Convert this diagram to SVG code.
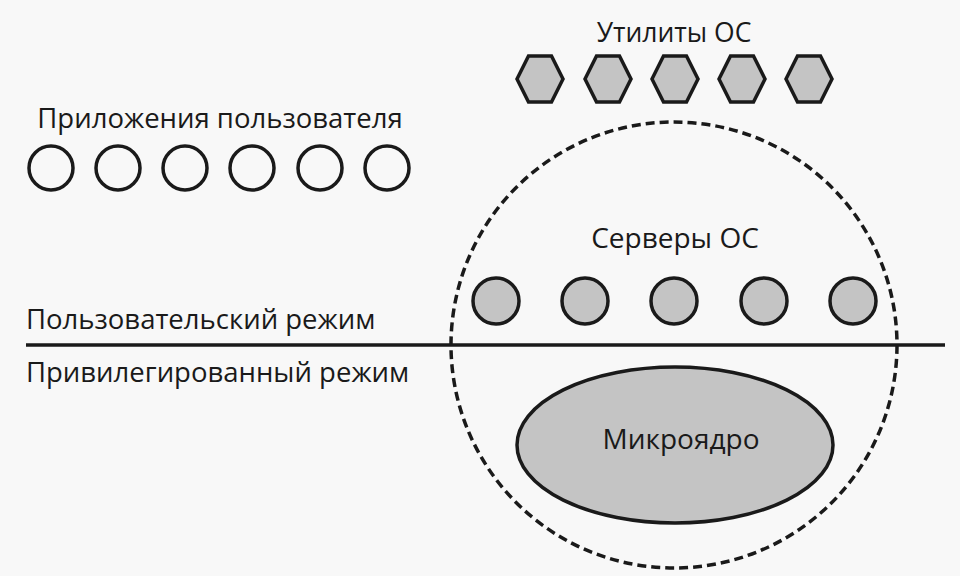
<svg xmlns="http://www.w3.org/2000/svg" width="960" height="576" viewBox="0 0 960 576">
<style>
text{font-family:"Open Sans","Noto Sans",sans-serif;fill:#1a1a1a;font-size:27.5px}
.app{fill:none;stroke:#1a1a1a;stroke-width:3.5}
.srv{fill:#c4c4c4;stroke:#1a1a1a;stroke-width:3.5}
.hex{fill:#c4c4c4;stroke:#1a1a1a;stroke-width:3.5;stroke-linejoin:miter}
</style>
<defs>
<polygon id="hexshape" points="-23,0 -11.5,-23 11.5,-23 23,0 11.5,23 -11.5,23"/>
</defs>
<rect width="960" height="576" fill="#f8f8f8"/>
<g id="boundary">
<circle cx="674" cy="345" r="223" fill="none" stroke="#1a1a1a" stroke-width="3.5" stroke-dasharray="9 5"/>
</g>
<g id="connectors">
<line x1="26" y1="345" x2="945" y2="345" stroke="#1a1a1a" stroke-width="3.5"/>
</g>
<g id="utilities">
<text x="674" y="42" text-anchor="middle" style="font-size:26.5px">Утилиты ОС</text>
<use href="#hexshape" class="hex" x="540" y="79"/>
<use href="#hexshape" class="hex" x="608" y="79"/>
<use href="#hexshape" class="hex" x="675" y="79"/>
<use href="#hexshape" class="hex" x="742" y="79"/>
<use href="#hexshape" class="hex" x="809" y="79"/>
</g>
<g id="user-apps">
<text x="220" y="128" text-anchor="middle">Приложения пользователя</text>
<circle class="app" cx="51" cy="168" r="22"/>
<circle class="app" cx="118" cy="168" r="22"/>
<circle class="app" cx="185" cy="168" r="22"/>
<circle class="app" cx="252" cy="168" r="22"/>
<circle class="app" cx="320" cy="168" r="22"/>
<circle class="app" cx="387" cy="168" r="22"/>
</g>
<g id="servers">
<text x="675" y="248" text-anchor="middle" style="font-size:28px">Серверы ОС</text>
<circle class="srv" cx="496" cy="301" r="23"/>
<circle class="srv" cx="585" cy="301" r="23"/>
<circle class="srv" cx="674" cy="301" r="23"/>
<circle class="srv" cx="764" cy="301" r="23"/>
<circle class="srv" cx="853" cy="301" r="23"/>
</g>
<g id="user-mode">
<text x="26" y="329">Пользовательский режим</text>
</g>
<g id="kernel-mode">
<text x="26" y="382">Привилегированный режим</text>
</g>
<g id="microkernel">
<ellipse cx="675" cy="445" rx="158" ry="78" fill="#c4c4c4" stroke="#1a1a1a" stroke-width="3.5"/>
<text x="681" y="449" text-anchor="middle" style="font-size:28px">Микроядро</text>
</g>
</svg>
